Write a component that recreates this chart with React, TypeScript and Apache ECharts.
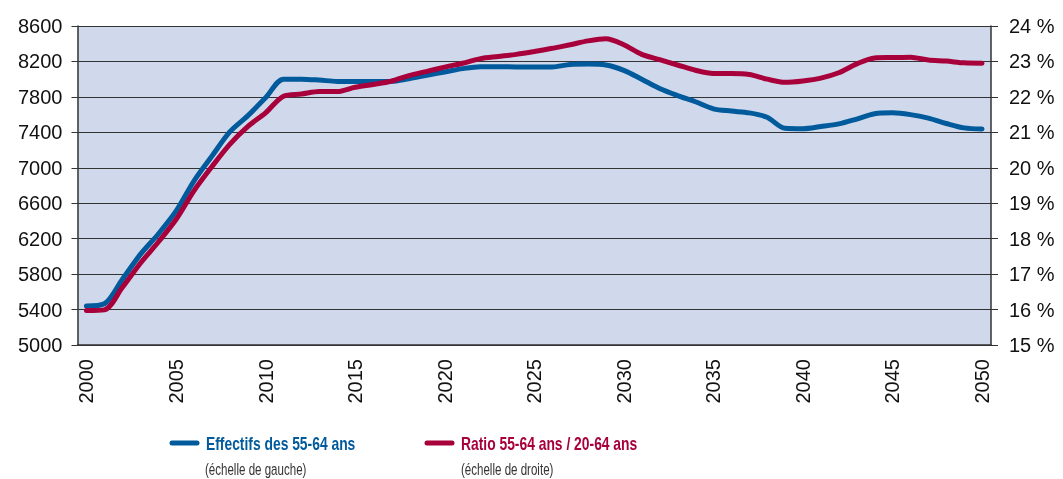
import React, { useEffect, useRef } from "react";
import * as echarts from "echarts";

const years: string[] = [];
for (let y = 2000; y <= 2050; y++) years.push(String(y));

const effectifs = [
  5440, 5465, 5740, 6020, 6250, 6510, 6850, 7130, 7405, 7586,
  7790, 8000, 8000, 7990, 7975, 7975, 7975, 7975, 8005, 8044,
  8081, 8119, 8141, 8141, 8138, 8138, 8138, 8165, 8170, 8160,
  8100, 8000, 7895, 7815, 7745, 7665, 7640, 7620, 7570, 7445,
  7440, 7465, 7495, 7550, 7610, 7620, 7600, 7560, 7500, 7450,
  7437,
];

const ratio = [
  15.97, 15.99, 16.62, 17.3, 17.9, 18.54, 19.35, 20.03, 20.66, 21.16,
  21.55, 22.02, 22.08, 22.15, 22.15, 22.27, 22.35, 22.44, 22.6, 22.72,
  22.84, 22.95, 23.08, 23.14, 23.2, 23.28, 23.37, 23.47, 23.58, 23.64,
  23.47, 23.2, 23.05, 22.9, 22.75, 22.66, 22.66, 22.63, 22.5, 22.41,
  22.45, 22.53, 22.68, 22.93, 23.1, 23.11, 23.12, 23.04, 23.01, 22.96,
  22.95,
];

const BLUE = "#005a9c";
const RED = "#a8003b";
const SANS = "'Liberation Sans', Arial, sans-serif";

export default function App() {
  const ref = useRef<HTMLDivElement>(null);
  useEffect(() => {
    if (!ref.current) return;
    const chart = echarts.init(ref.current, null, { renderer: "svg" });
    chart.setOption({
      animation: false,
      grid: { left: 77.5, right: 72, top: 26, bottom: 134, show: true, backgroundColor: "#cfd9eb", borderWidth: 0 },
      xAxis: {
        type: "category",
        data: years,
        boundaryGap: true,
        axisLine: { lineStyle: { color: "#333", width: 1.5 } },
        axisTick: { interval: 0, length: 7, lineStyle: { color: "#333" } },
        axisLabel: {
          interval: 4,
          rotate: 90,
          margin: 14,
          fontSize: 20,
          fontFamily: SANS,
          color: "#111",
        },
      },
      yAxis: [
        {
          type: "value",
          min: 5000,
          max: 8600,
          interval: 400,
          axisLine: { show: true, lineStyle: { color: "#333", width: 1.5 } },
          axisTick: { show: true, length: 6, lineStyle: { color: "#333" } },
          axisLabel: { margin: 15, fontSize: 20, fontFamily: SANS, color: "#111", formatter: (v: number) => String(v) },
          splitLine: { lineStyle: { color: "#333", width: 1 } },
        },
        {
          type: "value",
          min: 15,
          max: 24,
          interval: 1,
          position: "right",
          axisLine: { show: true, lineStyle: { color: "#333", width: 1.5 } },
          axisTick: { show: true, length: 7, lineStyle: { color: "#333" } },
          axisLabel: { margin: 18, fontSize: 20, fontFamily: SANS, color: "#111", formatter: "{value} %" },
          splitLine: { show: false },
        },
      ],
      series: [
        {
          name: "Effectifs des 55-64 ans",
          type: "line",
          yAxisIndex: 0,
          data: effectifs,
          smooth: 0.3,
          showSymbol: false,
          lineStyle: { color: BLUE, width: 5, cap: "round" },
          z: 3,
        },
        {
          name: "Ratio 55-64 ans / 20-64 ans",
          type: "line",
          yAxisIndex: 1,
          data: ratio,
          smooth: 0.3,
          showSymbol: false,
          lineStyle: { color: RED, width: 5, cap: "round" },
          z: 4,
        },
      ],
      graphic: [
        { type: "line", shape: { x1: 172, y1: 443, x2: 197, y2: 443 }, style: { stroke: BLUE, lineWidth: 5, lineCap: "round" } },
        { type: "text", x: 206, y: 443, scaleX: 0.77, style: { text: "Effectifs des 55-64 ans", fill: BLUE, font: `bold 18px ${SANS}`, textVerticalAlign: "middle" } },
        { type: "text", x: 205, y: 469, scaleX: 0.68, style: { text: "(échelle de gauche)", fill: "#333", font: `17px ${SANS}`, textVerticalAlign: "middle" } },
        { type: "line", shape: { x1: 427, y1: 443, x2: 452, y2: 443 }, style: { stroke: RED, lineWidth: 5, lineCap: "round" } },
        { type: "text", x: 461, y: 443, scaleX: 0.77, style: { text: "Ratio 55-64 ans / 20-64 ans", fill: RED, font: `bold 18px ${SANS}`, textVerticalAlign: "middle" } },
        { type: "text", x: 461, y: 469, scaleX: 0.68, style: { text: "(échelle de droite)", fill: "#333", font: `17px ${SANS}`, textVerticalAlign: "middle" } },
      ],
    });
    return () => chart.dispose();
  }, []);
  return <div ref={ref} style={{ position: "fixed", left: 0, top: 0, width: 1063, height: 479 }} />;
}
